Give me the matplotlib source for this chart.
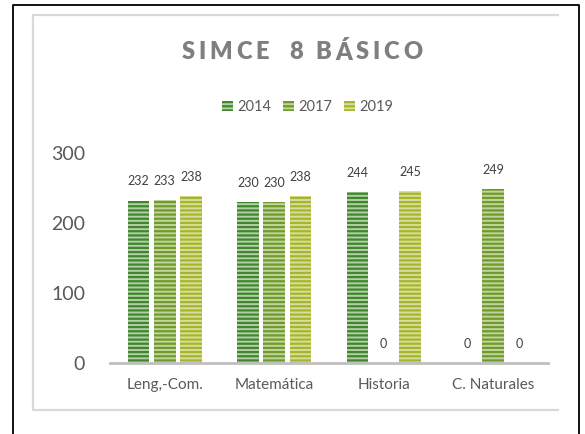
import matplotlib
matplotlib.use("Agg")
import matplotlib.pyplot as plt
import numpy as np
from matplotlib.patches import Patch
from matplotlib.lines import Line2D

plt.rcParams['font.family'] = ['Lato', 'DejaVu Sans']
plt.rcParams['hatch.linewidth'] = 1.6

subjects = ["Leng,-Com.", "Matemática", "Historia", "C. Naturales"]
years = ["2014", "2017", "2019"]
scores_2014 = [232, 230, 244, 0]
scores_2017 = [233, 230, 0, 249]
scores_2019 = [238, 238, 245, 0]
series = [scores_2014, scores_2017, scores_2019]

stripe_cols = ["#3f862f", "#6e9b2c", "#a6b62c"]
base_cols = ["#b4d0a6", "#c2d49c", "#d7de9e"]

W, H = 585, 434
fig = plt.figure(figsize=(W / 100, H / 100), dpi=100)
renderer = fig.canvas.get_renderer()

# frames: outer black, inner light gray
fig.add_artist(Line2D([13 / W, 13 / W, 579 / W, 579 / W], [0, 1 - 5 / H, 1 - 5 / H, 0],
                      color="black", lw=1.3))
fig.add_artist(Line2D([558 / W, 33 / W, 33 / W, 558 / W],
                      [1 - 15 / H, 1 - 15 / H, 1 - 410 / H, 1 - 410 / H],
                      color="#d9d9d9", lw=1.6))

ax = fig.add_axes([110 / W, 71 / H, 438 / W, 210 / H])
x = np.arange(len(subjects))
step = 0.24
bw = 0.2
for i, vals in enumerate(series):
    bars = ax.bar(x + (i - 1) * step, vals, bw, color=base_cols[i],
                  edgecolor=stripe_cols[i], hatch="----", linewidth=0)
    ax.bar_label(bars, labels=[str(v) for v in vals], padding=9.5,
                 fontsize=9, color="#404040")

ax.set_xlim(-0.5, len(subjects) - 0.5)
ax.set_ylim(0, 300)
ax.set_yticks([0, 100, 200, 300])
ax.set_xticks(x)
ax.set_xticklabels(subjects)
for s in ["top", "right", "left"]:
    ax.spines[s].set_visible(False)
ax.spines["bottom"].set_color("#bfbfbf")
ax.spines["bottom"].set_linewidth(2)
ax.tick_params(axis="y", length=0, pad=18, labelsize=14, labelcolor="#595959")
ax.tick_params(axis="x", length=0, pad=11, labelsize=11, labelcolor="#595959")


def spaced_text(s, xc, y, track, space_w, **kw):
    widths = []
    for ch in s:
        if ch == " ":
            widths.append(space_w)
        else:
            t = fig.text(0, 0, ch, **kw)
            widths.append(t.get_window_extent(renderer).width)
            t.remove()
    total = sum(widths) + track * (len(s) - 1)
    xp = xc - total / 2
    for ch, w in zip(s, widths):
        if ch != " ":
            fig.text(xp / W, 1 - y / H, ch, ha="left", va="center", **kw)
        xp += w + track


spaced_text("SIMCE  8 BÁSICO", 302, 52, 3.8, 4.5, fontsize=17, fontweight="heavy",
            color="#7f7f7f")

handles = [Patch(facecolor=base_cols[i], edgecolor=stripe_cols[i], hatch="----",
                 linewidth=0) for i in range(3)]
fig.legend(handles, years, loc="center", bbox_to_anchor=(308 / W, 1 - 107 / H),
           ncol=3, frameon=False, fontsize=10.5, handlelength=0.75, handleheight=0.75,
           handletextpad=0.3, columnspacing=0.8, labelcolor="#595959")

fig.savefig("out.png", dpi=100)
